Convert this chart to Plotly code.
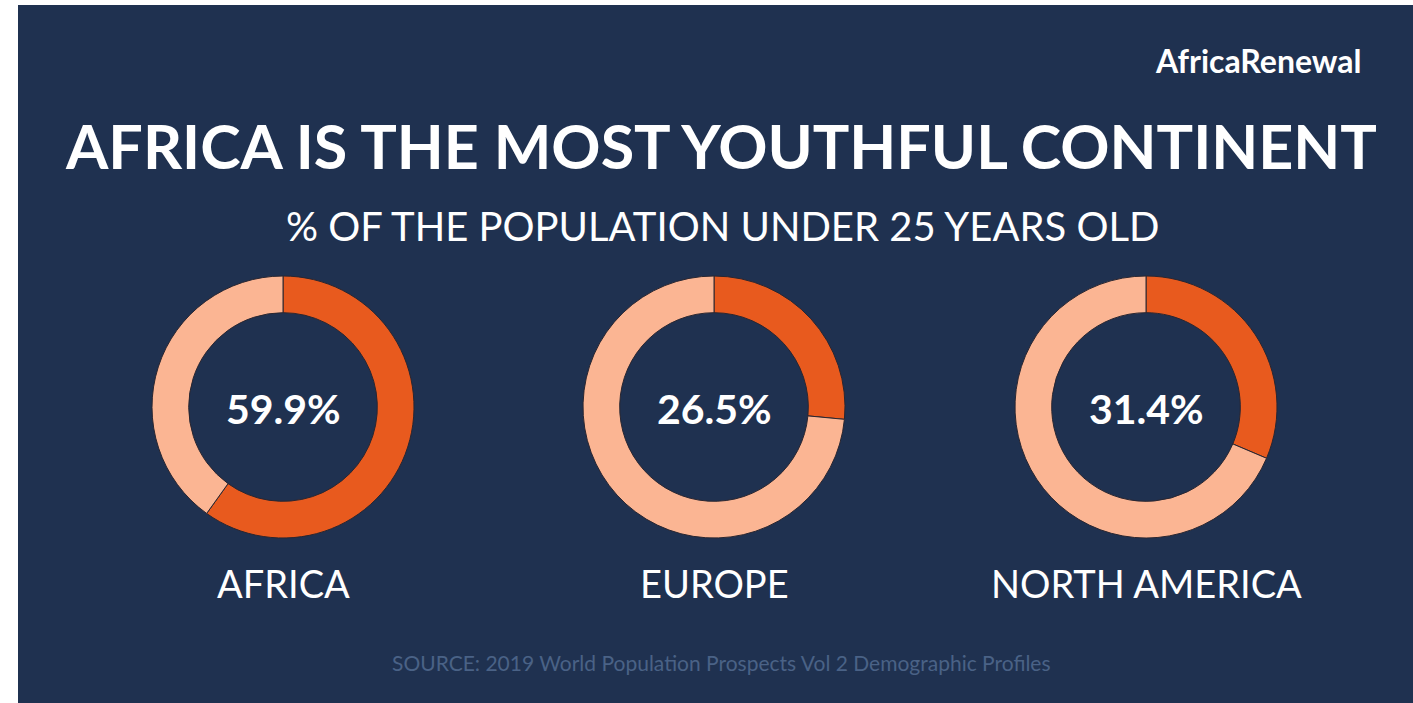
import plotly.graph_objects as go

regions = ["AFRICA", "EUROPE", "NORTH AMERICA"]
under25 = [59.9, 26.5, 31.4]
pct_labels = ["59.9%", "26.5%", "31.4%"]

W, H = 1413, 703
NAVY = "#1f3150"
ORANGE = "#e85a1e"
PEACH = "#fbb593"

centers_x = [283, 714, 1146]
center_y = 407
R = 131


def ann(x, y, text, size, color="white", xanchor="center"):
    fig.add_annotation(x=x / W, y=1 - y / H, xref="paper", yref="paper",
                       xanchor=xanchor, yanchor="middle",
                       text=text, showarrow=False,
                       font=dict(family="Lato", size=size, color=color))


fig = go.Figure()

for i, (reg, val) in enumerate(zip(regions, under25)):
    cx = centers_x[i]
    fig.add_trace(go.Pie(
        values=[val, 100 - val],
        labels=["Under 25", "25 and over"],
        sort=False,
        direction="clockwise",
        rotation=0,
        hole=0.72,
        textinfo="none",
        hoverinfo="label+percent",
        marker=dict(colors=[ORANGE, PEACH], line=dict(color="#2a2630", width=1)),
        domain=dict(x=[(cx - R) / W, (cx + R) / W],
                    y=[1 - (center_y + R) / H, 1 - (center_y - R) / H]),
        showlegend=False,
    ))
    ann(cx, 408, "<b>" + pct_labels[i] + "</b>", 41)
    ann(cx, 583, reg, 38)

fig.add_shape(type="rect", xref="paper", yref="paper",
              x0=18 / W, x1=1, y0=0, y1=1 - 5 / H,
              fillcolor=NAVY, line=dict(width=0), layer="below")

ann(721, 146, "<b>AFRICA IS THE MOST YOUTHFUL CONTINENT</b>", 61)
ann(722, 226, "% OF THE POPULATION UNDER 25 YEARS OLD", 40)
ann(721, 662, "SOURCE: 2019 World Population Prospects Vol 2 Demographic Profiles", 21, color="#4a6286")
ann(1364, 60, "<b>AfricaRenewal</b>", 32, xanchor="right")

fig.update_layout(width=W, height=H, margin=dict(l=0, r=0, t=0, b=0),
                  paper_bgcolor="white", plot_bgcolor="white")

fig.write_html("out.html", config={"displayModeBar": False},
               post_script="document.body.style.margin='0';document.body.style.overflow='hidden';")
